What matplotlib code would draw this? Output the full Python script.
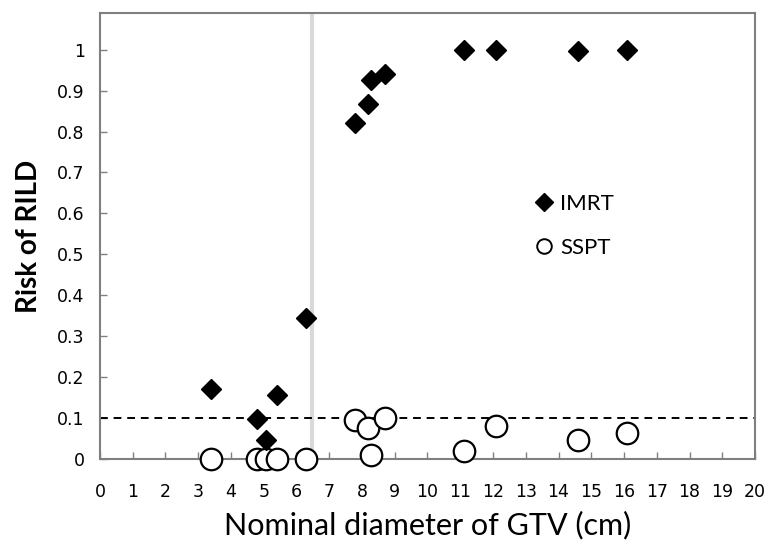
import numpy as np
import matplotlib
matplotlib.use("Agg")
import matplotlib.pyplot as plt
from matplotlib.lines import Line2D

# Data
gtv_imrt = [3.38, 4.78, 5.06, 5.39, 6.28, 7.79, 8.17, 8.26, 8.71, 11.11, 12.09, 14.6, 16.1]
risk_imrt = [0.172, 0.099, 0.047, 0.158, 0.345, 0.82, 0.867, 0.927, 0.94, 1.0, 1.0, 0.996, 1.0]

gtv_sspt = [3.38, 4.78, 5.06, 5.39, 6.28, 7.79, 8.17, 8.26, 8.71, 11.11, 12.09, 14.6, 16.1]
risk_sspt = [0.0, 0.0, 0.0, 0.0, 0.0, 0.096, 0.077, 0.01, 0.1, 0.02, 0.081, 0.047, 0.065]

threshold_risk = 0.1
cutoff_diameter = 6.47
x_ticks = np.arange(0, 21, 1)
y_ticks = np.round(np.arange(0, 1.01, 0.1), 1)

fig = plt.figure(figsize=(7.72, 5.48), dpi=100)
ax = fig.add_axes([0.1295, 0.162, 0.8485, 0.814])

# vertical gray separator and dashed threshold
ax.axvline(cutoff_diameter, color="#d9d9d9", lw=3, zorder=1)
ax.axhline(threshold_risk, color="black", lw=1.4, ls=(0, (4, 3)), zorder=2)

ax.plot(gtv_imrt, risk_imrt, ls="none", marker="D", ms=10.5, color="black",
        zorder=4, clip_on=False)
ax.plot(gtv_sspt, risk_sspt, ls="none", marker="o", ms=15.5, mfc="white",
        mec="black", mew=1.6, zorder=3, clip_on=False)

ax.set_xlim(0, 20)
ax.set_ylim(0, 1.089)
ax.set_xticks(x_ticks)
ax.set_xticklabels([str(v) for v in x_ticks], fontsize=12.5)
ax.set_yticks(y_ticks)
ax.set_yticklabels(["%g" % v for v in y_ticks], fontsize=12.5)
ax.tick_params(axis="both", direction="in", length=5, width=1, color="#808080")
ax.tick_params(axis="x", pad=17)
ax.tick_params(axis="y", pad=11)
for sp in ax.spines.values():
    sp.set_color("#7f7f7f")
    sp.set_linewidth(1.5)

ax.set_xlabel("Nominal diameter of GTV (cm)", fontsize=22, family="Lato", labelpad=7)
ax.set_ylabel("Risk of RILD", fontsize=20, family="Lato", fontweight="bold", labelpad=11)

handles = [
    Line2D([], [], ls="none", marker="D", ms=9, color="black"),
    Line2D([], [], ls="none", marker="o", ms=10.5, mfc="white", mec="black", mew=1.4),
]
ax.legend(handles, ["IMRT", "SSPT"], frameon=False, loc="upper left",
          bbox_to_anchor=(0.63, 0.64), prop={"family": "Lato", "size": 16},
          handletextpad=0.25, labelspacing=1.1, handlelength=1.0)

fig.savefig("out.png", dpi=100)
